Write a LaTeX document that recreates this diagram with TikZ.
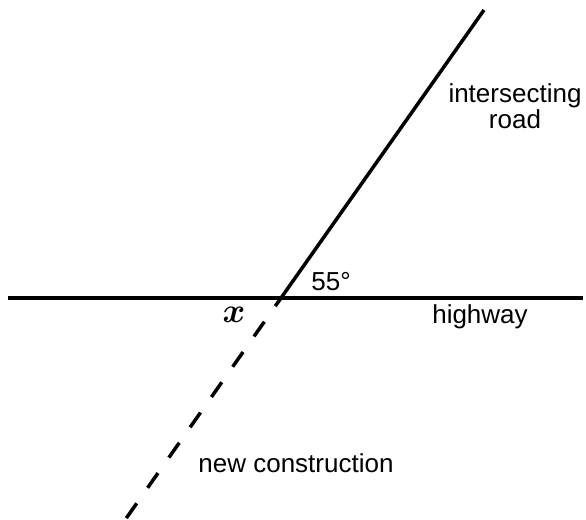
\documentclass[tikz,border=0pt]{standalone}
\usepackage{bm}
\usepackage{fontspec}
\setmainfont{Liberation Sans}
\begin{document}
\begin{tikzpicture}[x=0.5pt, y=-0.5pt,
  lbl/.style={font=\fontsize{13}{13}\selectfont, inner sep=0pt, align=center}]
  \useasboundingbox (0,0) rectangle (586,520);
  \coordinate (west) at (8,298);
  \coordinate (east) at (583,298);
  \coordinate (cross) at (281,298);
  \coordinate (roadend) at (484,10);
  \coordinate (newend) at (125,520);
  \draw[line width=2.25pt] (west) -- (east);
  \draw[line width=1.75pt] (cross) -- (roadend);
  \draw[line width=1.75pt, dash pattern=on 9pt off 9.5pt, dash phase=4pt] (cross) -- (newend);
  \node[lbl] (road) at (515,106) {intersecting\\road};
  \node[lbl] (angle) at (331,282) {55°};
  \node[lbl, font=\fontsize{16}{16}\selectfont] (xlab) at (234,315) {$\bm{x}$};
  \node[lbl] (highway) at (480,317) {highway};
  \node[lbl] (newcons) at (296,463) {new construction};
\end{tikzpicture}
\end{document}
